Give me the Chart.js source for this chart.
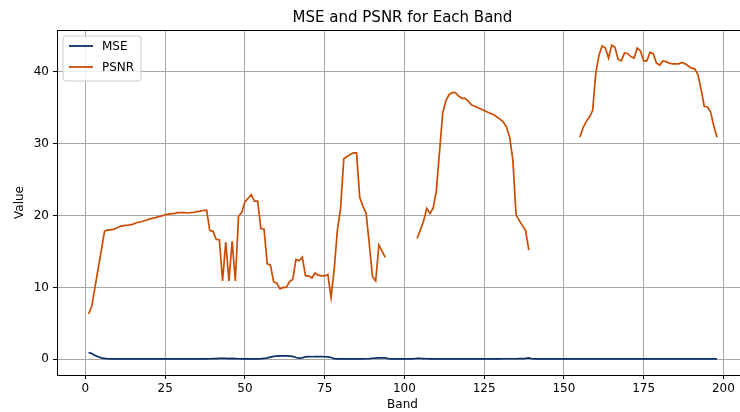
<!DOCTYPE html>
<html>
<head>
<meta charset="utf-8">
<script src="https://cdn.jsdelivr.net/npm/chart.js@4.4.0/dist/chart.umd.min.js"></script>
<style>
  html, body { margin: 0; padding: 0; background: #fff; }
  #wrap { width: 740px; height: 412px; position: relative; }
</style>
</head>
<body>
<div id="wrap"><canvas id="c" width="740" height="412"></canvas></div>
<script>
// ---- data ----
const titleText = "MSE and PSNR for Each Band";
const xLabel = "Band";
const yLabel = "Value";
const seriesNames = ["MSE", "PSNR"];
const xTicks = [0, 25, 50, 75, 100, 125, 150, 175, 200];
const yTicks = [0, 10, 20, 30, 40];

const bands = [];
for (let b = 1; b <= 198; b++) bands.push(b);

const mse = [
  0.95, 0.8, 0.55, 0.35, 0.2, 0.12, 0.08, 0.07, 0.06, 0.06,
  0.06, 0.06, 0.06, 0.06, 0.06, 0.06, 0.06, 0.06, 0.06, 0.06,
  0.06, 0.06, 0.06, 0.06, 0.06, 0.06, 0.06, 0.06, 0.06, 0.06,
  0.06, 0.06, 0.06, 0.06, 0.06, 0.06, 0.06, 0.07, 0.08, 0.1,
  0.11, 0.12, 0.12, 0.12, 0.11, 0.12, 0.1, 0.08, 0.07, 0.06,
  0.06, 0.06, 0.06, 0.06, 0.08, 0.12, 0.2, 0.3, 0.4, 0.45,
  0.48, 0.5, 0.48, 0.45, 0.4, 0.25, 0.18, 0.2, 0.35, 0.38,
  0.36, 0.38, 0.38, 0.38, 0.36, 0.35, 0.25, 0.1, 0.06, 0.06,
  0.06, 0.06, 0.06, 0.06, 0.06, 0.06, 0.07, 0.08, 0.1, 0.15,
  0.18, 0.2, 0.22, 0.2, 0.08, 0.06, 0.06, 0.06, 0.06, 0.06,
  0.06, 0.06, 0.08, 0.15, 0.12, 0.1, 0.08, 0.07, 0.06, 0.06,
  0.06, 0.06, 0.06, 0.06, 0.06, 0.06, 0.06, 0.06, 0.06, 0.06,
  0.06, 0.06, 0.06, 0.06, 0.06, 0.06, 0.06, 0.06, 0.07, 0.07,
  0.08, 0.08, 0.08, 0.08, 0.08, 0.09, 0.1, 0.14, 0.2, 0.08,
  0.05, 0.05, 0.05, 0.05, 0.05, 0.05, 0.05, 0.05, 0.05, 0.05,
  0.05, 0.05, 0.05, 0.05, 0.05, 0.05, 0.05, 0.05, 0.05, 0.05,
  0.05, 0.05, 0.05, 0.05, 0.05, 0.05, 0.05, 0.05, 0.05, 0.05,
  0.05, 0.05, 0.05, 0.05, 0.05, 0.05, 0.05, 0.05, 0.05, 0.05,
  0.05, 0.05, 0.05, 0.05, 0.05, 0.05, 0.05, 0.05, 0.05, 0.05,
  0.05, 0.05, 0.05, 0.05, 0.05, 0.05, 0.05, 0.05
];

const psnr = [
  6.3, 7.4, 10.0, 12.6, 15.2, 17.8, 18.0, 18.0, 18.1, 18.3,
  18.5, 18.6, 18.65, 18.7, 18.8, 19.0, 19.1, 19.2, 19.35, 19.5,
  19.6, 19.7, 19.85, 19.95, 20.1, 20.2, 20.25, 20.3, 20.4, 20.4,
  20.4, 20.35, 20.4, 20.45, 20.55, 20.6, 20.7, 20.75, 17.9, 17.8,
  16.7, 16.6, 10.9, 16.3, 10.9, 16.4, 10.9, 19.9, 20.4, 21.9,
  22.4, 22.9, 22.0, 22.0, 18.2, 18.1, 13.3, 13.1, 10.8, 10.6,
  9.8, 10.0, 10.0, 10.8, 11.1, 13.9, 13.7, 14.2, 11.6, 11.6,
  11.3, 12.0, 11.7, 11.6, 11.6, 11.8, 8.6, 12.5, 18.0, 21.0,
  27.9, 28.2, 28.5, 28.7, 28.7, 22.5, 21.3, 20.3, 16.0, 11.5,
  10.9, 15.9, 15.0, 14.2,
  null, null, null, null, null, null, null, null, null,
  16.8, 18.0, 19.2, 21.0, 20.3, 21.0, 23.4,
  28.8, 34.2, 36.0, 36.8, 37.1, 37.1, 36.6, 36.3, 36.3, 35.9,
  35.4, 35.2, 35.0, 34.8, 34.6, 34.4, 34.2, 34.0, 33.7, 33.4,
  33.0, 32.3, 30.9, 27.7, 20.1, 19.3, 18.6, 17.9, 15.2,
  null, null, null, null, null, null, null, null, null, null,
  null, null, null, null, null,
  30.9, 32.2, 33.1, 33.7, 34.6, 39.8,
  42.3, 43.6, 43.3, 41.9, 43.7, 43.4, 41.7, 41.5, 42.6, 42.5,
  42.1, 41.9, 43.3, 42.9, 41.5, 41.5, 42.7, 42.5, 41.2, 40.9,
  41.5, 41.4, 41.2, 41.1, 41.1, 41.1, 41.3, 41.1, 40.8, 40.5,
  40.4, 39.6, 37.5, 35.2, 35.1, 34.4, 32.4, 30.9
];

// ---- styles ----
const colors = ["#08306b", "#cc4c02"];
const FONT = "'DejaVu Sans', sans-serif";

function pts(vals) {
  return bands.map((b, i) => ({ x: b, y: vals[i] }));
}

const decor = {
  id: 'decor',
  afterDraw(chart) {
    const ctx = chart.ctx;
    const a = chart.chartArea;
    ctx.save();
    // top spine
    ctx.strokeStyle = '#000';
    ctx.lineWidth = 1;
    ctx.beginPath();
    ctx.moveTo(a.left, a.top + 0.5);
    ctx.lineTo(a.right, a.top + 0.5);
    ctx.stroke();
    // title
    const cx = 402.5;
    ctx.fillStyle = '#000';
    ctx.textAlign = 'center';
    ctx.textBaseline = 'middle';
    ctx.font = "15px " + FONT;
    ctx.fillText(titleText, cx, 18);
    // axis labels
    ctx.font = "12px " + FONT;
    ctx.fillText(xLabel, cx, 405);
    ctx.save();
    ctx.translate(20, (a.top + a.bottom) / 2);
    ctx.rotate(-Math.PI / 2);
    ctx.fillText(yLabel, 0, 0);
    ctx.restore();
    // legend
    const lx = 63, ly = 36, lw = 78, lh = 45, r = 3;
    ctx.beginPath();
    ctx.moveTo(lx + r, ly);
    ctx.lineTo(lx + lw - r, ly);
    ctx.arcTo(lx + lw, ly, lx + lw, ly + r, r);
    ctx.lineTo(lx + lw, ly + lh - r);
    ctx.arcTo(lx + lw, ly + lh, lx + lw - r, ly + lh, r);
    ctx.lineTo(lx + r, ly + lh);
    ctx.arcTo(lx, ly + lh, lx, ly + lh - r, r);
    ctx.lineTo(lx, ly + r);
    ctx.arcTo(lx, ly, lx + r, ly, r);
    ctx.closePath();
    ctx.fillStyle = 'rgba(255,255,255,0.8)';
    ctx.fill();
    ctx.strokeStyle = '#cccccc';
    ctx.lineWidth = 1;
    ctx.stroke();
    const rows = [46, 67];
    seriesNames.forEach((n, i) => {
      ctx.strokeStyle = colors[i];
      ctx.lineWidth = 1.8;
      ctx.beginPath();
      ctx.moveTo(69, rows[i]);
      ctx.lineTo(93, rows[i]);
      ctx.stroke();
      ctx.fillStyle = '#000';
      ctx.textAlign = 'left';
      ctx.textBaseline = 'middle';
      ctx.font = "12px " + FONT;
      ctx.fillText(n, 102, rows[i] + 0.5);
    });
    ctx.restore();
  }
};

new Chart(document.getElementById('c'), {
  type: 'line',
  data: {
    datasets: [
      { label: seriesNames[0], data: pts(mse), borderColor: colors[0], borderWidth: 1.7,
        pointRadius: 0, fill: false, tension: 0, spanGaps: false },
      { label: seriesNames[1], data: pts(psnr), borderColor: colors[1], borderWidth: 1.7,
        pointRadius: 0, fill: false, tension: 0, spanGaps: false }
    ]
  },
  options: {
    responsive: false,
    animation: false,
    devicePixelRatio: 1,
    layout: { padding: { top: 30, right: 0, left: 0, bottom: 0 } },
    plugins: { legend: { display: false }, title: { display: false }, tooltip: { enabled: false } },
    scales: {
      x: {
        type: 'linear',
        min: -8.9, max: 205.2,
        afterFit(s) { s.height = 37; },
        afterBuildTicks(s) { s.ticks = xTicks.map(v => ({ value: v })); },
        ticks: { color: '#000', font: { family: FONT, size: 12 }, padding: 3, maxRotation: 0, autoSkip: false },
        grid: { color: '#a8a8a8', lineWidth: 1, tickColor: '#000', tickLength: 4, drawTicks: true },
        border: { display: true, color: '#000', width: 1 }
      },
      y: {
        type: 'linear',
        min: -2.18, max: 45.8,
        afterFit(s) { s.width = 57; },
        afterBuildTicks(s) { s.ticks = yTicks.map(v => ({ value: v })); },
        ticks: { color: '#000', font: { family: FONT, size: 12 }, padding: 4 },
        grid: { color: '#a8a8a8', lineWidth: 1, tickColor: '#000', tickLength: 4, drawTicks: true },
        border: { display: true, color: '#000', width: 1 }
      }
    }
  },
  plugins: [decor]
});
</script>
</body>
</html>
